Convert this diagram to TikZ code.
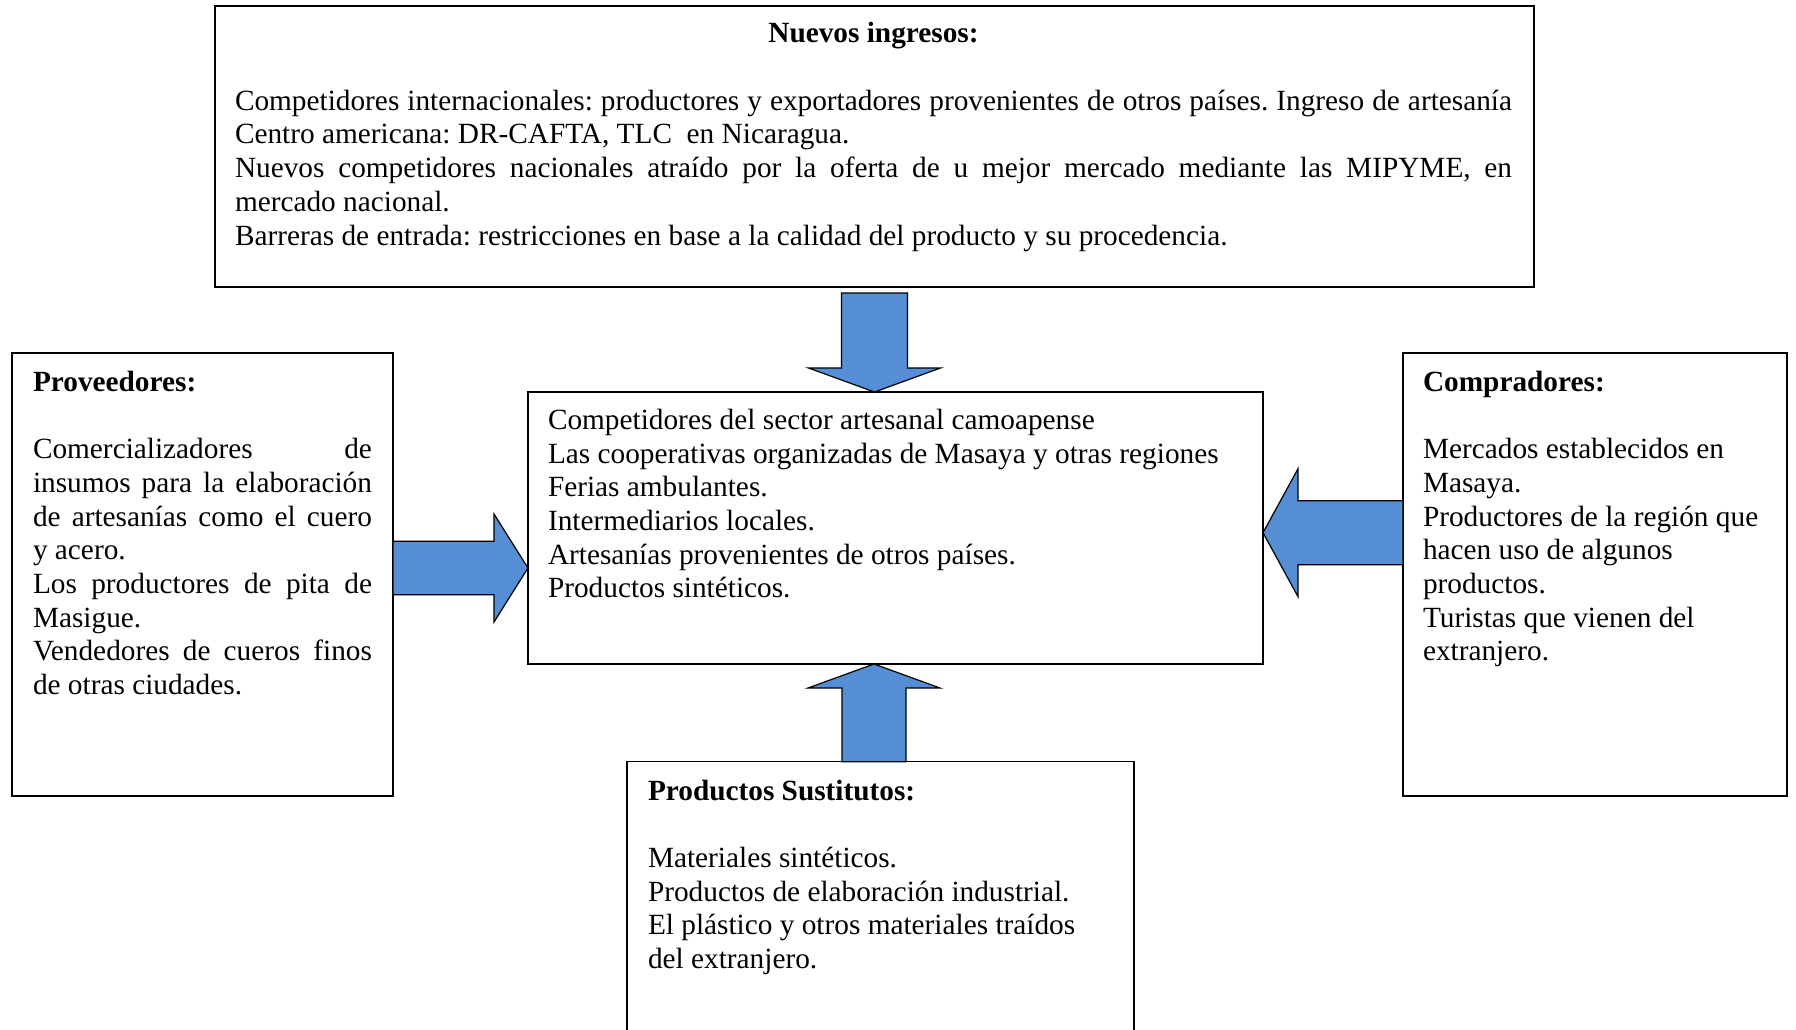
\documentclass[tikz,border=0pt]{standalone}
\usepackage{fontspec}
\setmainfont{Liberation Serif}
\usetikzlibrary{calc}
\frenchspacing

\definecolor{azulflecha}{HTML}{558ED5}

\tikzset{
  x=1pt, y=1pt,
  caja/.style={draw=black, line width=1.5pt, rectangle, inner sep=0pt,
    outer sep=0pt, anchor=north west, fill=white},
  texto/.style={inner sep=0pt, outer sep=0pt, anchor=base west,
    font=\fontsize{29.3}{33.7}\selectfont},
  flecha/.style={draw=black, line width=1.2pt, fill=azulflecha, line join=miter},
}

% a column of text lines; the first line carries the baseline
\newcommand\bloque[2]{\vtop{\hsize=#1\relax #2}}
% justified line and ragged line
\newcommand\jl[1]{\hbox to\hsize{#1}}
\newcommand\rl[1]{\hbox{#1}}
\newcommand\tit[1]{\hbox{\bfseries #1}}

% block arrow from #1 to the tip #2: shaft half width #3, head half width #4, head length #5
\newcommand\flechabloque[5]{%
  \coordinate (fbH) at ($(#2)!#5!(#1)$);
  \draw[flecha] ($(#1)!#3!90:(#2)$) -- ($(fbH)!#3!90:(#2)$)
    -- ($(fbH)!#4!90:(#2)$) -- (#2) -- ($(fbH)!#4!-90:(#2)$)
    -- ($(fbH)!#3!-90:(#2)$) -- ($(#1)!#3!-90:(#2)$) -- cycle;
}

\begin{document}
\begin{tikzpicture}
\useasboundingbox (0,0) rectangle (1796,-1029);
\clip (0,0) rectangle (1796,-1029);

% ---- boxes ----
\node[caja, minimum width=1319pt, minimum height=281pt] (ingresos) at (215,-6) {};
\node[caja, minimum width=735pt, minimum height=272pt] (centro) at (528,-392) {};
\node[caja, minimum width=381pt, minimum height=443pt] (proveedores) at (12,-353) {};
\node[caja, minimum width=384pt, minimum height=443pt] (compradores) at (1403,-353) {};
\node[caja, minimum width=507pt, minimum height=320pt] (sustitutos) at (627,-761.7) {};

% ---- texts ----
\node[texto] (tingresos) at (235,-42.8) {\bloque{1277pt}{%
  \hbox to\hsize{\hfil\bfseries Nuevos ingresos:\hfil}
  \hbox{}
  \jl{Competidores internacionales: productores y exportadores provenientes de otros países. Ingreso de artesanía}
  \rl{Centro americana: DR-CAFTA, TLC\ \ en Nicaragua.}
  \jl{Nuevos competidores nacionales atraído por la oferta de u mejor mercado mediante las MIPYME, en}
  \rl{mercado nacional.}
  \rl{Barreras de entrada: restricciones en base a la calidad del producto y su procedencia.}
}};

\node[texto] (tcentro) at (548,-429.3) {\bloque{700pt}{%
  \rl{Competidores del sector artesanal camoapense}
  \rl{Las cooperativas organizadas de Masaya y otras regiones}
  \rl{Ferias ambulantes.}
  \rl{Intermediarios locales.}
  \rl{Artesanías provenientes de otros países.}
  \rl{Productos sintéticos.}
}};

\node[texto] (tproveedores) at (33,-391.2) {\bloque{339pt}{%
  \tit{Proveedores:}
  \hbox{}
  \jl{Comercializadores de}
  \jl{insumos para la elaboración}
  \jl{de artesanías como el cuero}
  \rl{y acero.}
  \jl{Los productores de pita de}
  \rl{Masigue.}
  \jl{Vendedores de cueros finos}
  \rl{de otras ciudades.}
}};

\node[texto] (tcompradores) at (1423,-391.2) {\bloque{350pt}{%
  \tit{Compradores:}
  \hbox{}
  \rl{Mercados establecidos en}
  \rl{Masaya.}
  \rl{Productores de la región que}
  \rl{hacen uso de algunos}
  \rl{productos.}
  \rl{Turistas que vienen del}
  \rl{extranjero.}
}};

\node[texto] (tsustitutos) at (648,-800.1) {\bloque{470pt}{%
  \tit{Productos Sustitutos:}
  \hbox{}
  \rl{Materiales sintéticos.}
  \rl{Productos de elaboración industrial.}
  \rl{El plástico y otros materiales traídos}
  \rl{del extranjero.}
}};

% ---- block arrows toward the central box ----
\coordinate (dS) at ([yshift=-6pt]ingresos.south);
\coordinate (dT) at (dS |- centro.north);
\flechabloque{dS}{dT}{33pt}{66pt}{24pt}

\coordinate (uS) at ([xshift=-6.5pt]sustitutos.north);
\coordinate (uT) at (uS |- centro.south);
\flechabloque{uS}{uT}{32pt}{66pt}{24pt}

\coordinate (lS) at ([yshift=6.5pt]proveedores.east);
\coordinate (lT) at (lS -| centro.west);
\flechabloque{lS}{lT}{26.7pt}{54pt}{34pt}

\coordinate (rS) at ([yshift=41.8pt]compradores.west);
\coordinate (rT) at (rS -| centro.east);
\flechabloque{rS}{rT}{32pt}{64pt}{35pt}
\end{tikzpicture}
\end{document}
